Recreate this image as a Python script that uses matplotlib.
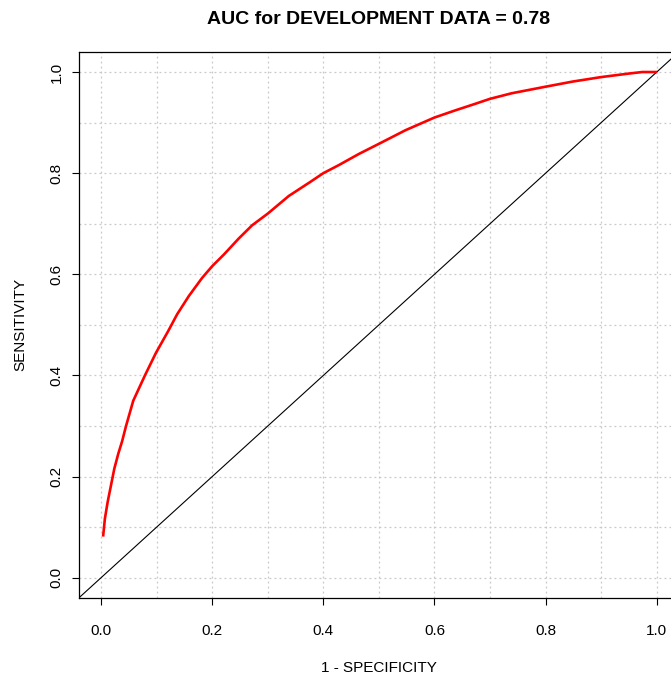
import numpy as np
import matplotlib
matplotlib.use('Agg')
import matplotlib.pyplot as plt

plt.rcParams['font.family'] = ['Liberation Sans', 'DejaVu Sans']

# ROC curve points (false positive rate, true positive rate)
fpr = [0.004, 0.007, 0.012, 0.018, 0.024, 0.031, 0.038, 0.045, 0.058, 0.079,
       0.099, 0.121, 0.137, 0.158, 0.182, 0.200, 0.221, 0.248, 0.272, 0.300,
       0.338, 0.377, 0.400, 0.428, 0.464, 0.500, 0.548, 0.600, 0.637, 0.673,
       0.700, 0.739, 0.800, 0.848, 0.900, 0.950, 0.974, 0.998]
tpr = [0.084, 0.117, 0.150, 0.183, 0.216, 0.245, 0.270, 0.300, 0.350, 0.400,
       0.445, 0.488, 0.521, 0.557, 0.593, 0.616, 0.639, 0.671, 0.697, 0.720,
       0.755, 0.783, 0.800, 0.816, 0.838, 0.858, 0.885, 0.910, 0.924, 0.937,
       0.947, 0.958, 0.971, 0.981, 0.990, 0.997, 1.000, 1.000]
auc_label = '0.78'

major_ticks = [0.0, 0.2, 0.4, 0.6, 0.8, 1.0]
tick_labels = ['0.0', '0.2', '0.4', '0.6', '0.8', '1.0']

fig = plt.figure(figsize=(6.71, 6.77), dpi=100)
ax = fig.add_axes([0.1174, 0.1167, 0.8945, 0.8068])

ax.set_xlim(-0.04, 1.04)
ax.set_ylim(-0.04, 1.04)

# dotted grid every 0.1
grid_pos = np.arange(0, 1.01, 0.1)
ax.set_xticks(grid_pos, minor=True)
ax.set_yticks(grid_pos, minor=True)
ax.grid(which='both', color='#c8c8c8', linestyle=(0, (1.5, 2.5)), linewidth=0.9)
ax.set_axisbelow(True)

ax.plot(fpr, tpr, color='red', linewidth=1.9, zorder=3)
ax.axline((0, 0), (1, 1), color='black', linewidth=0.8, zorder=2)

ax.set_xticks(major_ticks)
ax.set_xticklabels(tick_labels)
ax.set_yticks(major_ticks)
ax.set_yticklabels(tick_labels, rotation=90, va='center')
ax.tick_params(which='major', direction='out', length=5, width=0.8,
               labelsize=11, top=False, right=False)
ax.tick_params(axis='x', pad=14)
ax.tick_params(axis='y', pad=6)
ax.tick_params(which='minor', length=0)

for s in ax.spines.values():
    s.set_linewidth(0.9)

ax.set_title(f'AUC for DEVELOPMENT DATA = {auc_label}', fontsize=14,
             fontweight='bold', pad=20)
ax.set_xlabel('1 - SPECIFICITY', fontsize=11, labelpad=16)
ax.set_ylabel('SENSITIVITY', fontsize=11, labelpad=16)

fig.savefig('out.png', dpi=100)
